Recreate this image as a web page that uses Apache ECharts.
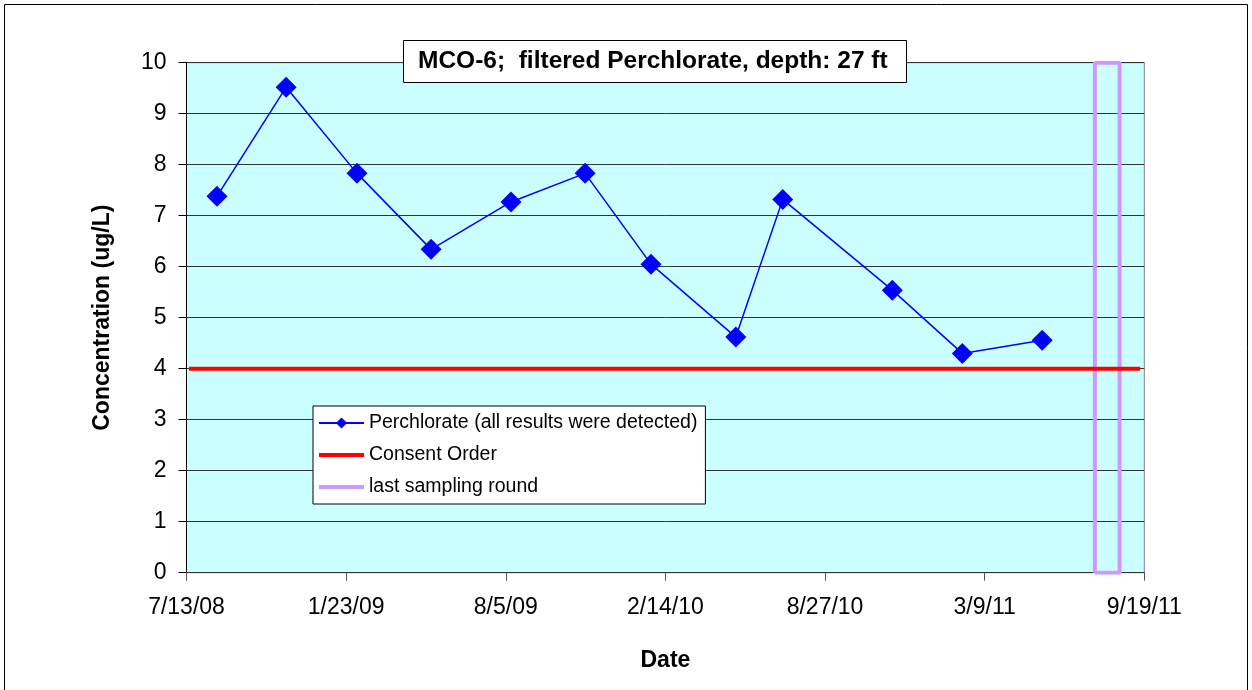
<!DOCTYPE html>
<html>
<head>
<meta charset="utf-8">
<title>MCO-6 filtered Perchlorate</title>
<script src="https://cdn.jsdelivr.net/npm/echarts@6/dist/echarts.min.js"></script>
<style>
  html, body { margin: 0; padding: 0; background: #fff; }
  #chart { width: 1252px; height: 690px; }
</style>
</head>
<body>
<div id="chart"></div>
<script>
// Sampling dates and filtered perchlorate results (ug/L)
const sampleDates = ['2008-08-19', '2008-11-11', '2009-02-05', '2009-05-06', '2009-08-11', '2009-11-09',
                     '2010-01-28', '2010-05-11', '2010-07-07', '2010-11-17', '2011-02-10', '2011-05-18'];
const perchlorate = [7.38, 9.52, 7.83, 6.34, 7.27, 7.83, 6.05, 4.62, 7.32, 5.54, 4.30, 4.56];

// Consent Order limit
const consentDates = ['2008-07-16', '2011-09-14'];
const consentLevel = [4, 4];

// Window of the last sampling round (drawn as an outlined box)
const lastRoundDates = ['2011-07-21', '2011-08-20'];
const lastRoundRange = [0, 10];

// Date axis tick labels
const dateTickLabels = ['7/13/08', '1/23/09', '8/5/09', '2/14/10', '8/27/10', '3/9/11', '9/19/11'];

const yTicks = [0, 1, 2, 3, 4, 5, 6, 7, 8, 9, 10];

// The date axis runs in hours from 7/13/08 so the tick spacing is a whole number
const axisStart = Date.UTC(2008, 6, 13);
const HOUR = 3600000;
const tickStep = 4652;                 // 193.83 days
const axisEnd = tickStep * (dateTickLabels.length - 1);

function toHours(s) {
  const p = s.split('-').map(Number);
  return (Date.UTC(p[0], p[1] - 1, p[2]) - axisStart) / HOUR;
}

const perchlorateData = sampleDates.map((d, i) => [toHours(d), perchlorate[i]]);
const consentData = consentDates.map((d, i) => [toHours(d), consentLevel[i]]);
const x0 = toHours(lastRoundDates[0]);
const x1 = toHours(lastRoundDates[1]);
const lastRoundData = [
  [x0, lastRoundRange[0]], [x0, lastRoundRange[1]],
  [x1, lastRoundRange[1]], [x1, lastRoundRange[0]],
  [x0, lastRoundRange[0]]
];

const FONT = '"Liberation Sans", Arial, sans-serif';
// plain thick bar used as the legend swatch of the two reference lines
const BAR_ICON = 'path://M0,0H45V4H0Z';

const chart = echarts.init(document.getElementById('chart'), null, { renderer: 'canvas' });
chart.setOption({
  animation: false,
  backgroundColor: '#ffffff',
  textStyle: { fontFamily: FONT, color: '#000' },
  graphic: [{
    type: 'rect',
    shape: { x: 4.5, y: 4.5, width: 1243, height: 700 },
    style: { fill: 'none', stroke: '#000', lineWidth: 1 },
    silent: true,
    z: -10
  }],
  title: {
    text: 'MCO-6;  filtered Perchlorate, depth: 27 ft',
    left: 403,
    top: 40,
    padding: [8, 19, 8, 15],
    backgroundColor: '#ffffff',
    borderColor: '#000',
    borderWidth: 1,
    textStyle: { fontFamily: FONT, fontSize: 24.5, fontWeight: 'bold', color: '#000', lineHeight: 27 }
  },
  legend: {
    orient: 'vertical',
    left: 313,
    top: 406,
    padding: [7, 8, 7, 5],
    itemGap: 12,
    itemWidth: 45,
    itemHeight: 14,
    backgroundColor: '#ffffff',
    borderColor: '#000',
    borderWidth: 1,
    borderRadius: 0,
    textStyle: { fontFamily: FONT, fontSize: 19.5, color: '#000', lineHeight: 20 },
    data: [
      { name: 'Perchlorate (all results were detected)' },
      { name: 'Consent Order', icon: BAR_ICON },
      { name: 'last sampling round', icon: BAR_ICON }
    ]
  },
  grid: {
    left: 186.5,
    right: 107.7,
    top: 62.7,
    bottom: 117.3,
    show: true,
    backgroundColor: '#CCFFFF',
    borderColor: '#808080',
    borderWidth: 1
  },
  xAxis: {
    type: 'value',
    min: 0,
    max: axisEnd,
    interval: tickStep,
    name: 'Date',
    nameLocation: 'middle',
    nameGap: 76,
    nameTextStyle: { fontFamily: FONT, fontSize: 23, fontWeight: 'bold', color: '#000' },
    axisLine: { show: true, lineStyle: { color: '#333', width: 1 } },
    axisTick: { show: true, length: 8, inside: false, lineStyle: { color: '#555' } },
    axisLabel: {
      margin: 23,
      fontFamily: FONT,
      fontSize: 23,
      color: '#000',
      formatter: v => dateTickLabels[Math.round(v / tickStep)] || ''
    },
    splitLine: { show: false }
  },
  yAxis: {
    type: 'value',
    min: yTicks[0],
    max: yTicks[yTicks.length - 1],
    interval: 1,
    name: 'Concentration (ug/L)',
    nameLocation: 'middle',
    nameGap: 72,
    nameTextStyle: { fontFamily: FONT, fontSize: 23, fontWeight: 'bold', color: '#000' },
    axisLine: { show: true, lineStyle: { color: '#000', width: 1 } },
    axisTick: { show: true, length: 8, lineStyle: { color: '#000' } },
    axisLabel: { margin: 20, fontFamily: FONT, fontSize: 23, color: '#000' },
    splitLine: { show: true, lineStyle: { color: '#333', width: 1 } }
  },
  series: [
    {
      name: 'Perchlorate (all results were detected)',
      type: 'line',
      data: perchlorateData,
      symbol: 'diamond',
      symbolSize: 21,
      itemStyle: { color: '#0000FF' },
      lineStyle: { color: '#0000FF', width: 1.5 },
      z: 5
    },
    {
      name: 'Consent Order',
      type: 'line',
      data: consentData,
      symbol: 'none',
      itemStyle: { color: '#FF0000' },
      lineStyle: { color: '#FF0000', width: 4 },
      z: 4
    },
    {
      name: 'last sampling round',
      type: 'line',
      data: lastRoundData,
      symbol: 'none',
      itemStyle: { color: '#CC99FF' },
      lineStyle: { color: '#CC99FF', width: 4 },
      z: 3
    }
  ]
});
</script>
</body>
</html>
